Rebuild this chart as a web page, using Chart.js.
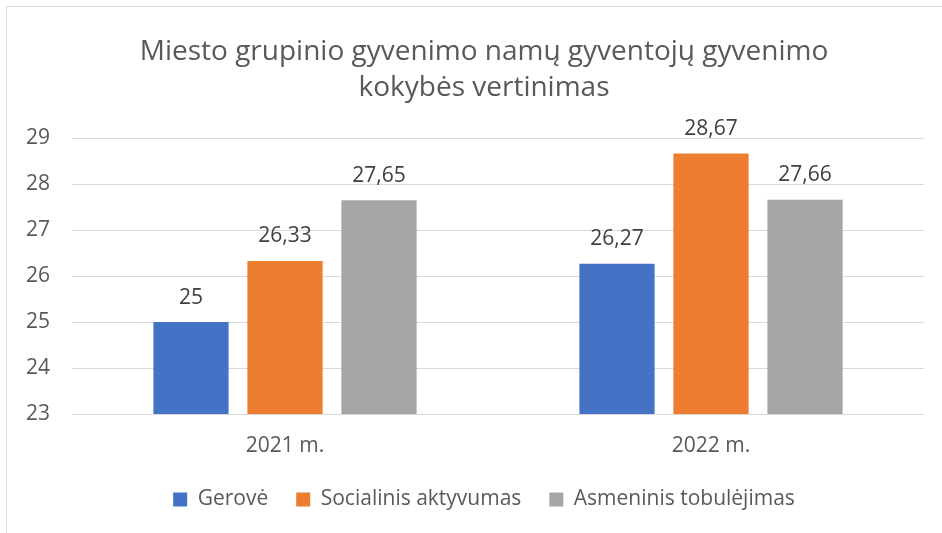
<!DOCTYPE html>
<html>
<head>
<meta charset="utf-8">
<script src="https://cdn.jsdelivr.net/npm/chart.js@4"></script>
<style>
  body { margin: 0; background: #fff; }
  #frame { position: absolute; left: 6px; top: 6px; width: 940px; height: 530px;
           border-left: 1px solid #d9d9d9; border-top: 1px solid #d9d9d9; }
  #wrap { position: absolute; left: 0; top: 0; width: 942px; height: 533px; }
</style>
</head>
<body>
<div id="frame"></div>
<div id="wrap"><canvas id="chart"></canvas></div>
<script>
const categories = ["2021 m.", "2022 m."];
const seriesNames = ["Gerovė", "Socialinis aktyvumas", "Asmeninis tobulėjimas"];
const gerove = [25, 26.27];
const socialinis = [26.33, 28.67];
const asmeninis = [27.65, 27.66];
const colors = ["#4472C4", "#ED7D31", "#A5A5A5"];
const yTicks = [23, 24, 25, 26, 27, 28, 29];

const fontFamily = "'Open Sans', sans-serif";

// labels above bars, comma decimals
const barLabels = {
  id: "barLabels",
  afterDatasetsDraw(chart) {
    const ctx = chart.ctx;
    ctx.save();
    ctx.font = "21px " + fontFamily;
    ctx.fillStyle = "#404040";
    ctx.textAlign = "center";
    ctx.textBaseline = "bottom";
    chart.data.datasets.forEach((ds, i) => {
      chart.getDatasetMeta(i).data.forEach((bar, j) => {
        const txt = String(ds.data[j]).replace(".", ",");
        ctx.fillText(txt, bar.x, bar.y - 14);
      });
    });
    ctx.restore();
  }
};

const datasets = [gerove, socialinis, asmeninis].map((d, i) => ({
  label: seriesNames[i],
  data: d,
  backgroundColor: colors[i],
  barPercentage: 0.8,
  categoryPercentage: 0.662
}));

new Chart(document.getElementById("chart"), {
  type: "bar",
  data: { labels: categories, datasets: datasets },
  plugins: [barLabels],
  options: {
    responsive: true,
    maintainAspectRatio: false,
    animation: false,
    layout: { padding: { left: 44, right: 18, top: 34, bottom: 13 } },
    plugins: {
      title: {
        display: true,
        text: ["Miesto grupinio gyvenimo namų gyventojų gyvenimo", "kokybės vertinimas"],
        color: "#595959",
        font: { family: fontFamily, size: 28, weight: "normal", lineHeight: 1.29 },
        padding: { top: 0, bottom: 32 }
      },
      legend: {
        position: "bottom",
        labels: {
          color: "#595959",
          font: { family: fontFamily, size: 21 },
          boxWidth: 14,
          boxHeight: 14,
          padding: 28
        }
      },
      tooltip: { enabled: false }
    },
    scales: {
      x: {
        afterFit(scale) { scale.height = 47; },
        grid: { display: false, drawTicks: false },
        border: { display: false },
        ticks: { color: "#595959", font: { family: fontFamily, size: 21 }, padding: 19 }
      },
      y: {
        min: 23,
        max: 29,
        afterFit(scale) { scale.width = 28; },
        afterBuildTicks(scale) { scale.ticks = yTicks.map(v => ({ value: v })); },
        grid: { color: "#d9d9d9", drawTicks: false },
        border: { display: false },
        // mirror avoids clipping the labels to the narrow axis box
        ticks: { mirror: true, color: "#595959", font: { family: fontFamily, size: 21 }, padding: -46 }
      }
    }
  }
});
</script>
</body>
</html>
